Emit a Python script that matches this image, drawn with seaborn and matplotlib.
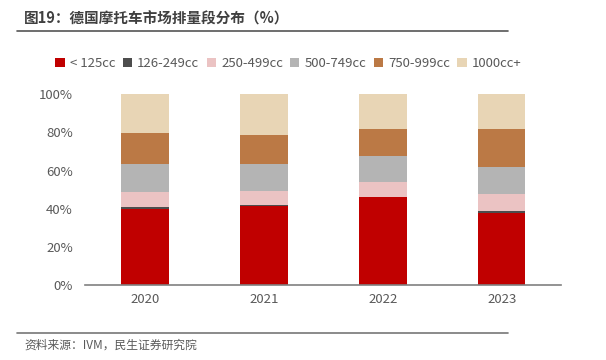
import matplotlib
matplotlib.use("Agg")
import matplotlib.pyplot as plt
from matplotlib.patches import Patch
from matplotlib.ticker import FixedLocator, PercentFormatter
import numpy as np
import pandas as pd
import seaborn as sns

years = ["2020", "2021", "2022", "2023"]
segments = ["< 125cc", "126-249cc", "250-499cc", "500-749cc", "750-999cc", "1000cc+"]
lt125 = [40.0, 41.4, 46.0, 37.9]
s126_249 = [0.7, 0.5, 0.3, 0.9]
s250_499 = [8.2, 7.6, 7.9, 9.1]
s500_749 = [14.8, 14.2, 13.5, 14.2]
s750_999 = [15.9, 14.9, 13.9, 19.5]
s1000 = [20.4, 21.4, 18.4, 18.4]
colors = ["#C00000", "#4D4D4D", "#EBC3C3", "#B4B4B4", "#BB7945", "#E8D5B5"]

sns.set_theme(style="white")
plt.rcParams["font.family"] = ["Noto Sans CJK SC", "DejaVu Sans"]

df = pd.DataFrame({"year": years})
for name, vals in zip(segments, [lt125, s126_249, s250_499, s500_749, s750_999, s1000]):
    df[name] = vals

fig = plt.figure(figsize=(6.06, 3.6), dpi=100)
ax = fig.add_axes([0.141, 0.208, 0.785, 0.53])

bottom = np.zeros(len(years))
for name, c in zip(segments, colors):
    sns.barplot(data=df, x="year", y=name, bottom=bottom, color=c, width=0.4,
                ax=ax, saturation=1, linewidth=0)
    bottom = bottom + df[name].values

ax.set_ylim(0, 100)
ax.set_xlim(-0.5, 3.5)
ax.set_yticks(range(0, 101, 20))
ax.yaxis.set_major_formatter(PercentFormatter(decimals=0))
ax.set_xlabel("")
ax.set_ylabel("")
for s in ["top", "right", "left"]:
    ax.spines[s].set_visible(False)
ax.spines["bottom"].set_color("#808080")
ax.spines["bottom"].set_linewidth(1.2)
ax.tick_params(axis="both", labelsize=9.5, colors="#595959", length=0, pad=6)
ax.tick_params(axis="y", pad=9)
ax.xaxis.set_minor_locator(FixedLocator([0.5, 1.5, 2.5]))
ax.tick_params(axis="x", which="minor", length=3, color="#808080", width=0.8)

handles = [Patch(facecolor=c, edgecolor="none") for c in colors]
fig.legend(handles, segments, loc="center", bbox_to_anchor=(0.476, 0.823), ncol=6,
           frameon=False, fontsize=9.5, handlelength=0.7, handleheight=0.7,
           handletextpad=0.4, columnspacing=0.55, labelcolor="#595959")

fig.text(0.04, 0.948, "图19：德国摩托车市场排量段分布（%）", fontsize=10.5, fontweight="bold",
         color="#404040", va="center")
fig.add_artist(plt.Line2D([0.028, 0.838], [0.913, 0.913], color="#555555", linewidth=1.2))
fig.add_artist(plt.Line2D([0.028, 0.838], [0.075, 0.075], color="#777777", linewidth=1.2))
fig.text(0.04, 0.04, "资料来源：IVM，民生证券研究院", fontsize=8.5, color="#595959", va="center")

fig.savefig("out.png", dpi=100)
